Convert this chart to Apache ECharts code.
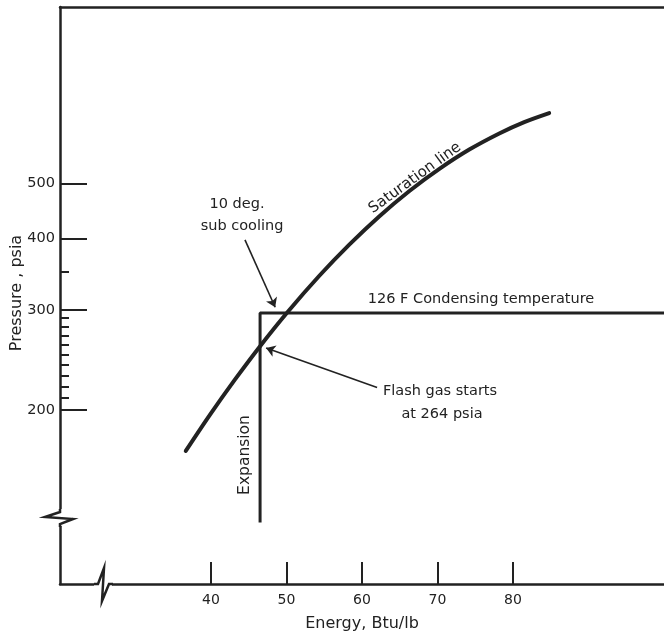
<!DOCTYPE html>
<html>
<head>
<meta charset="utf-8">
<script src="https://cdn.jsdelivr.net/npm/echarts@6/dist/echarts.min.js"></script>
<style>
  html, body { margin: 0; padding: 0; background: #ffffff; }
  #chart { width: 664px; height: 637px; }
</style>
</head>
<body>
<div id="chart"></div>
<script>
// ---- data ----
const energyTicks = [40, 50, 60, 70, 80];
const pressureLabels = [200, 300, 400, 500];
const pressureMinorTicks = [210, 220, 230, 240, 250, 260, 270, 280, 290, 350];

const satEnergy   = [36.66, 39.83, 43.14, 46.45, 50.15, 54.38, 58.35, 62.31, 66.28, 70.25, 74.21, 78.18, 81.49, 84.79];
const satPressure = [169.5, 195.9, 225.9, 258.4, 297.3, 344.5, 390.7, 437.9, 484.9, 530.2, 573.2, 611.8, 640.5, 664.3];

const cycleEnergy   = [46.5, 46.5, 100];
const cyclePressure = [127, 296, 296];

// annotation arrows: [fromEnergy, fromPressure, toEnergy, toPressure]
const arrowSubCooling = [44.5, 398, 48.5, 303];
const arrowFlashGas   = [62.0, 219, 47.3, 257];

const FONT = '"DejaVu Sans", sans-serif';
const INK = '#222222';

const satData = satEnergy.map((e, i) => [e, satPressure[i]]);
const cycleData = cycleEnergy.map((e, i) => [e, cyclePressure[i]]);

const chart = echarts.init(document.getElementById('chart'), null, { renderer: 'canvas' });

const grid = { left: 60, top: 7, width: 605, height: 577 };

function txt(x, y, text, size, rot) {
  return {
    type: 'text', z: 102, x: x, y: y, rotation: rot || 0,
    style: { text: text, fill: INK, font: size + 'px ' + FONT, align: 'center', verticalAlign: 'middle' }
  };
}

const option = {
  backgroundColor: '#ffffff',
  animation: false,
  grid: grid,
  xAxis: [
    {
      type: 'value', min: 20, max: 100, position: 'bottom',
      axisLine: { show: true, lineStyle: { color: INK, width: 2.5 } },
      axisTick: { show: true, inside: true, length: 22, customValues: energyTicks, lineStyle: { color: INK, width: 2 } },
      axisLabel: { show: true, customValues: energyTicks, margin: 9, color: INK, fontFamily: FONT, fontSize: 14 },
      splitLine: { show: false }
    },
    {
      type: 'value', min: 20, max: 100, position: 'top',
      axisLine: { show: true, onZero: false, lineStyle: { color: INK, width: 2.5 } },
      axisTick: { show: false }, axisLabel: { show: false }, splitLine: { show: false }
    }
  ],
  yAxis: [
    {
      type: 'log', min: 99, max: 1020, position: 'left',
      axisLine: { show: true, onZero: false, lineStyle: { color: INK, width: 2.5 } },
      axisTick: { show: true, inside: true, length: 27, customValues: pressureLabels, lineStyle: { color: INK, width: 2 } },
      axisLabel: { show: true, customValues: pressureLabels, margin: 5, color: INK, fontFamily: FONT, fontSize: 14.5 },
      splitLine: { show: false }, minorTick: { show: false }
    },
    {
      type: 'log', min: 99, max: 1020, position: 'left',
      axisLine: { show: false },
      axisTick: { show: true, inside: true, length: 9, customValues: pressureMinorTicks, lineStyle: { color: INK, width: 2 } },
      axisLabel: { show: false },
      splitLine: { show: false }
    }
  ],
  series: [
    {
      name: 'Saturation line', type: 'line', data: satData,
      xAxisIndex: 0, yAxisIndex: 0,
      smooth: 0.3, showSymbol: false, symbol: 'none',
      lineStyle: { color: INK, width: 4, cap: 'round' }
    },
    {
      name: 'Cycle', type: 'line', data: cycleData,
      xAxisIndex: 0, yAxisIndex: 0,
      showSymbol: false, symbol: 'none',
      lineStyle: { color: INK, width: 3 },
      markLine: {
        silent: true, symbol: ['none', 'arrow'], symbolSize: 9,
        label: { show: false },
        lineStyle: { color: INK, width: 1.6, type: 'solid' },
        data: [
          [{ coord: [arrowSubCooling[0], arrowSubCooling[1]] }, { coord: [arrowSubCooling[2], arrowSubCooling[3]] }],
          [{ coord: [arrowFlashGas[0], arrowFlashGas[1]] }, { coord: [arrowFlashGas[2], arrowFlashGas[3]] }]
        ]
      }
    }
  ],
  graphic: [
    // axis break on the pressure axis
    { type: 'rect', z: 100, shape: { x: 56, y: 509, width: 8, height: 17 }, style: { fill: '#ffffff' } },
    { type: 'polyline', z: 101, shape: { points: [[60, 509], [60, 512], [45, 517], [73, 519], [60, 524], [60, 527]] }, style: { stroke: INK, lineWidth: 2.5, fill: null } },
    // axis break on the energy axis
    { type: 'rect', z: 100, shape: { x: 94, y: 580, width: 18, height: 8 }, style: { fill: '#ffffff' } },
    { type: 'polyline', z: 101, shape: { points: [[94, 584], [98, 584], [104, 568], [102, 601], [109, 584], [113, 584]] }, style: { stroke: INK, lineWidth: 2.5, fill: null } },
    // texts
    txt(17, 293, 'Pressure , psia', 16, Math.PI / 2),
    txt(362, 624, 'Energy, Btu/lb', 16),
    txt(237, 204, '10 deg.', 14.5),
    txt(242, 226, 'sub cooling', 14.5),
    txt(415, 178, 'Saturation line', 15, 36 * Math.PI / 180),
    txt(481, 299, '126 F Condensing temperature', 14.5),
    txt(440, 391, 'Flash gas starts', 14.5),
    txt(442, 414, 'at 264 psia', 14.5),
    txt(245, 455, 'Expansion', 15.5, Math.PI / 2)
  ]
};

chart.setOption(option);
</script>
</body>
</html>
